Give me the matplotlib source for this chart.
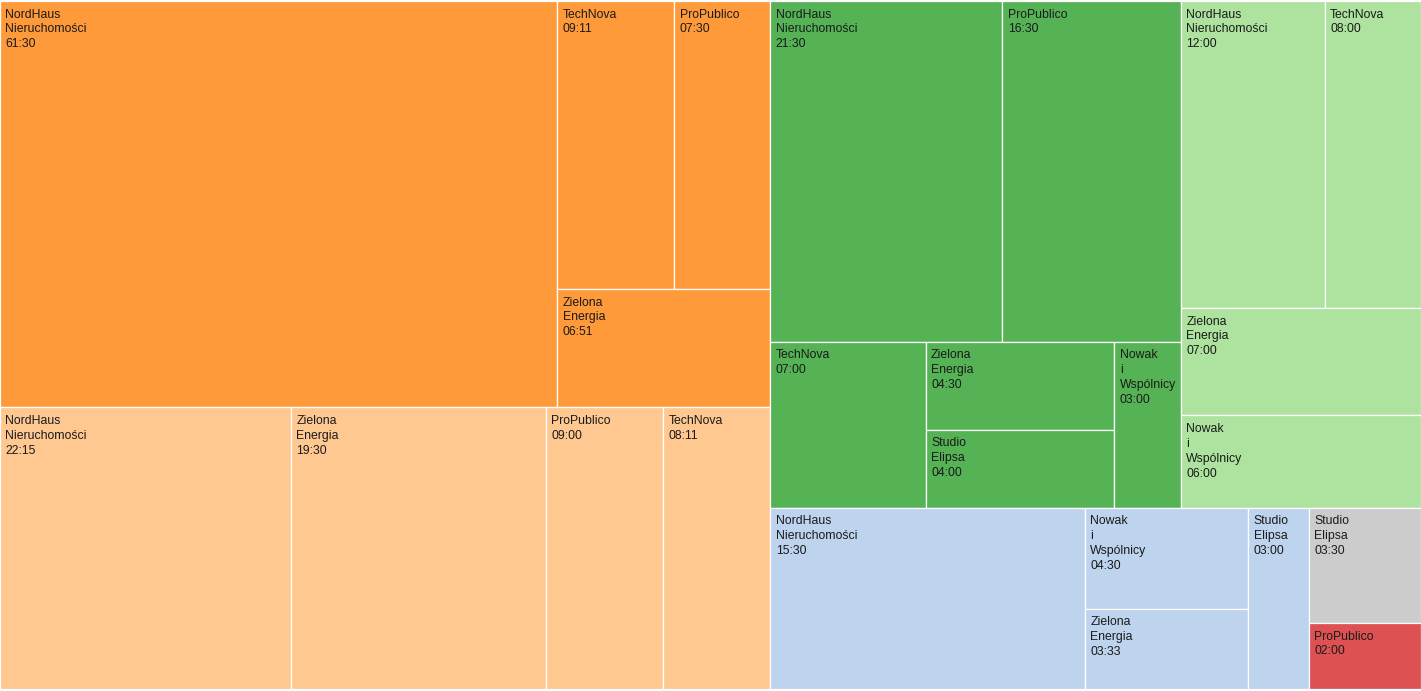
import math
import matplotlib
matplotlib.use("Agg")
import matplotlib.pyplot as plt
from matplotlib.patches import Rectangle

# ---- data ----
group1_clients = ["NordHaus Nieruchomości", "TechNova", "ProPublico", "Zielona Energia"]
group1_times = ["61:30", "09:11", "07:30", "06:51"]
group2_clients = ["NordHaus Nieruchomości", "Zielona Energia", "ProPublico", "TechNova"]
group2_times = ["22:15", "19:30", "09:00", "08:11"]
group3_clients = ["NordHaus Nieruchomości", "ProPublico", "TechNova", "Zielona Energia",
                  "Studio Elipsa", "Nowak i Wspólnicy"]
group3_times = ["21:30", "16:30", "07:00", "04:30", "04:00", "03:00"]
group4_clients = ["NordHaus Nieruchomości", "TechNova", "Zielona Energia", "Nowak i Wspólnicy"]
group4_times = ["12:00", "08:00", "07:00", "06:00"]
group5_clients = ["NordHaus Nieruchomości", "Nowak i Wspólnicy", "Zielona Energia", "Studio Elipsa"]
group5_times = ["15:30", "04:30", "03:33", "03:00"]
group6_clients = ["Studio Elipsa"]
group6_times = ["03:30"]
group7_clients = ["ProPublico"]
group7_times = ["02:00"]

group_colors = ["#FF9A3A", "#FFC891", "#55B355", "#ADE39F", "#BED3EE", "#CCCCCC", "#DE5152"]

groups = [
    (group1_clients, group1_times),
    (group2_clients, group2_times),
    (group3_clients, group3_times),
    (group4_clients, group4_times),
    (group5_clients, group5_times),
    (group6_clients, group6_times),
    (group7_clients, group7_times),
]

W, H = 1421, 691
PHI = (1 + math.sqrt(5)) / 2


def to_min(s):
    h, m = s.split(":")
    return int(h) * 60 + int(m)


def squarify(values, x0, y0, x1, y1, ratio=PHI):
    """d3.treemapSquarify port; values sorted descending. Returns list of rects."""
    rects = [None] * len(values)
    n = len(values)
    value = float(sum(values))
    i0 = i1 = 0
    while i0 < n:
        dx, dy = x1 - x0, y1 - y0
        sum_v = values[i1]
        i1 += 1
        min_v = max_v = sum_v
        alpha = max(dy / dx, dx / dy) / (value * ratio)
        beta = sum_v * sum_v * alpha
        min_ratio = max(max_v / beta, beta / min_v)
        while i1 < n:
            v = values[i1]
            sum_v += v
            min_v = min(min_v, v)
            max_v = max(max_v, v)
            beta = sum_v * sum_v * alpha
            new_ratio = max(max_v / beta, beta / min_v)
            if new_ratio > min_ratio:
                sum_v -= v
                break
            min_ratio = new_ratio
            i1 += 1
        row = list(range(i0, i1))
        if dx < dy:  # dice: row along the top
            ny = y0 + dy * sum_v / value if value else y1
            cx = x0
            for k in row:
                w = (x1 - x0) * values[k] / sum_v
                rects[k] = (cx, y0, cx + w, ny)
                cx += w
            y0 = ny
        else:  # slice: column on the left
            nx = x0 + dx * sum_v / value if value else x1
            cy = y0
            for k in row:
                h = (y1 - y0) * values[k] / sum_v
                rects[k] = (x0, cy, nx, cy + h)
                cy += h
            x0 = nx
        value -= sum_v
        i0 = i1
    return rects


fig = plt.figure(figsize=(W / 100, H / 100), dpi=100)
ax = fig.add_axes([0, 0, 1, 1])
ax.set_xlim(0, W)
ax.set_ylim(H, 0)
ax.axis("off")

group_vals = [[to_min(t) for t in g[1]] for g in groups]
group_totals = [sum(v) for v in group_vals]
group_rects = squarify(group_totals, 0, 1, W - 0.5, H - 2)

for (clients, times), vals, grect, color in zip(groups, group_vals, group_rects, group_colors):
    rects = squarify(vals, *grect)
    for name, t, r in zip(clients, times, rects):
        x0, y0, x1, y1 = r
        ax.add_patch(Rectangle((x0, y0), x1 - x0, y1 - y0, facecolor=color,
                               edgecolor="white", linewidth=0.9))
        label = "\n".join(name.split(" ") + [t])
        ax.text(x0 + 5.5, y0 + 7.5, label, ha="left", va="top", fontsize=8.8,
                family=["Liberation Sans", "DejaVu Sans"], color="#1a1a1a",
                linespacing=1.32)

fig.savefig("out.png", dpi=100)
